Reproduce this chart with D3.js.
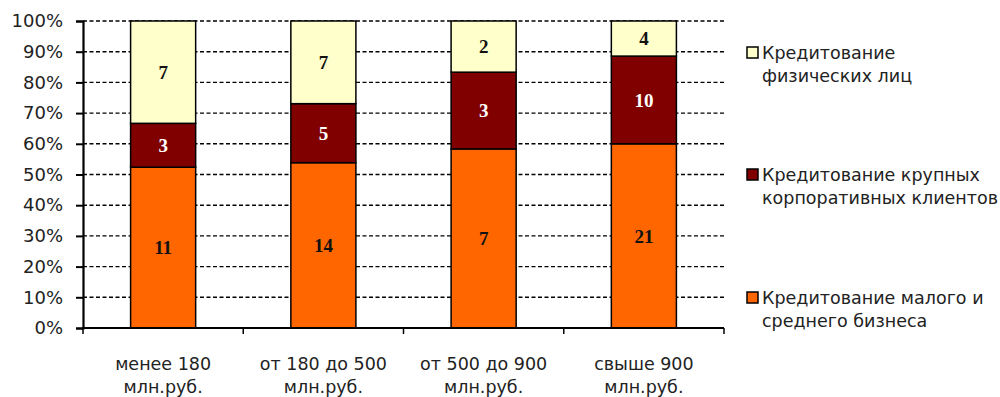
<!DOCTYPE html>
<html>
<head>
<meta charset="utf-8">
<script src="https://cdn.jsdelivr.net/npm/d3@7"></script>
<style>
  body { margin: 0; background: #fff; }
  svg text { font-family: "DejaVu Sans", sans-serif; fill: #222; }
</style>
</head>
<body>
<div id="chart"></div>
<script>
// categories (two-line labels)
const categories = [
  ["менее 180", "млн.руб."],
  ["от 180 до 500", "млн.руб."],
  ["от 500 до 900", "млн.руб."],
  ["свыше 900", "млн.руб."]
];
// counts per series, bottom -> top
const smallBiz = [11, 14, 7, 21];
const corporate = [3, 5, 3, 10];
const retail = [7, 7, 2, 4];
const seriesNames = [
  ["Кредитование малого и", "среднего бизнеса"],
  ["Кредитование крупных", "корпоративных клиентов"],
  ["Кредитование", "физических лиц"]
];
const yTicks = [0, 0.1, 0.2, 0.3, 0.4, 0.5, 0.6, 0.7, 0.8, 0.9, 1];

const colors = ["#FF6600", "#800000", "#FFFFCC"];
const labelColors = ["#111", "#fff", "#111"];

const W = 1000, H = 397;
const plotL = 83, plotR = 724, plotT = 21, plotB = 328;

const svg = d3.select("#chart").append("svg").attr("width", W).attr("height", H);

const x = d3.scaleBand()
  .domain(d3.range(categories.length))
  .range([plotL, plotR])
  .paddingInner(0.594)
  .paddingOuter(0.297);

const y = d3.scaleLinear().domain([0, 1]).range([plotB, plotT]);

// stacked data (normalised to 100%)
const table = categories.map((c, i) => ({ i, s0: smallBiz[i], s1: corporate[i], s2: retail[i] }));
const stack = d3.stack().keys(["s0", "s1", "s2"]).offset(d3.stackOffsetExpand);
const layers = stack(table);

// grid
svg.append("g")
  .selectAll("line")
  .data(yTicks.filter(d => d > 0))
  .enter().append("line")
  .attr("x1", plotL).attr("x2", plotR)
  .attr("y1", d => y(d)).attr("y2", d => y(d))
  .attr("stroke", "#000").attr("stroke-width", 1.4)
  .attr("stroke-dasharray", "4,2.5");

// bars
layers.forEach((layer, k) => {
  svg.append("g").selectAll("rect")
    .data(layer)
    .enter().append("rect")
    .attr("x", d => x(d.data.i))
    .attr("y", d => y(d[1]))
    .attr("width", x.bandwidth())
    .attr("height", d => y(d[0]) - y(d[1]))
    .attr("fill", colors[k])
    .attr("stroke", "#000")
    .attr("stroke-width", 1.5);

  svg.append("g").selectAll("text")
    .data(layer)
    .enter().append("text")
    .attr("x", d => x(d.data.i) + x.bandwidth() / 2)
    .attr("y", d => (y(d[0]) + y(d[1])) / 2)
    .attr("dy", "0.35em")
    .attr("text-anchor", "middle")
    .style("font-family", "'Liberation Serif', serif")
    .style("font-weight", "700")
    .style("font-size", "19px")
    .style("fill", labelColors[k])
    .text(d => d.data["s" + k]);
});

// y axis
const yAxis = svg.append("g")
  .attr("transform", `translate(${plotL},0)`)
  .call(d3.axisLeft(y).tickValues(yTicks).tickFormat(d3.format(".0%")).tickSizeOuter(0).tickSize(7).tickPadding(13));
yAxis.select(".domain").attr("stroke", "#000").attr("stroke-width", 2.2);
yAxis.selectAll(".tick line").attr("stroke", "#000").attr("stroke-width", 2);
yAxis.selectAll("text").style("font-size", "18px").style("font-family", "'DejaVu Sans', sans-serif").attr("fill", "#222");

// x axis
const xEdges = d3.range(categories.length + 1).map(i => plotL + i * x.step());
svg.append("line")
  .attr("x1", plotL - 1).attr("x2", plotR)
  .attr("y1", plotB).attr("y2", plotB)
  .attr("stroke", "#000").attr("stroke-width", 2.2);
svg.append("g").selectAll("line")
  .data(xEdges)
  .enter().append("line")
  .attr("x1", d => d).attr("x2", d => d)
  .attr("y1", plotB).attr("y2", plotB + 6)
  .attr("stroke", "#000").attr("stroke-width", 1.5);

const xl = svg.append("g").selectAll("text")
  .data(categories.map((c, i) => ({ c, i })))
  .enter().append("text")
  .attr("text-anchor", "middle")
  .style("font-size", "17.5px")
  .attr("transform", d => `translate(${x(d.i) + x.bandwidth() / 2},0)`);
xl.selectAll("tspan")
  .data(d => d.c)
  .enter().append("tspan")
  .attr("x", 0)
  .attr("y", (d, j) => 370 + j * 23)
  .text(d => d);

// legend (top to bottom: retail, corporate, small business)
const legendY = [53, 175, 298];
[2, 1, 0].forEach((k, n) => {
  const g = svg.append("g").attr("transform", `translate(747,${legendY[n]})`);
  g.append("rect")
    .attr("x", 0).attr("y", -6)
    .attr("width", 11).attr("height", 11)
    .attr("fill", colors[k]).attr("stroke", "#000").attr("stroke-width", 1.5);
  g.append("text")
    .style("font-size", "17.5px")
    .selectAll("tspan")
    .data(seriesNames[k])
    .enter().append("tspan")
    .attr("x", 15)
    .attr("y", (d, j) => 6 + j * 23)
    .text(d => d);
});
</script>
</body>
</html>
